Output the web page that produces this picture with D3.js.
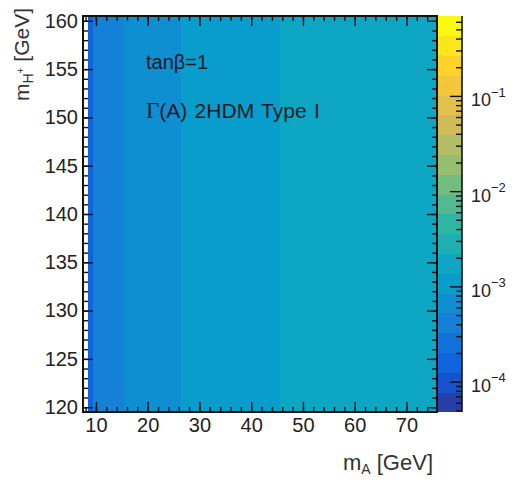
<!DOCTYPE html>
<html><head><meta charset="utf-8">
<script src="https://cdn.jsdelivr.net/npm/d3@7"></script>
<style>
html,body{margin:0;padding:0;background:#fff;}
svg{display:block;font-family:"Liberation Sans",Arial,Helvetica,sans-serif;}
</style></head>
<body>
<svg id="c" width="513" height="482"></svg>
<script>
// ---- data ----
const mA = [9,10,11,12,13,14,15,16,17,18,19,20,21,22,23,24,25,26,27,28,29,30,31,32,33,34,35,36,37,38,39,40,41,42,43,44,45,46,47,48,49,50,51,52,53,54,55,56,57,58,59,60,61,62,63,64,65,66,67,68,69,70,71,72,73,74,75,76];
const widthA = [1.95e-4,
 3.50e-4,3.85e-4,4.19e-4,4.53e-4,4.87e-4,5.20e-4,
 5.54e-4,5.84e-4,6.14e-4,6.44e-4,6.74e-4,7.03e-4,7.32e-4,7.61e-4,7.90e-4,8.18e-4,8.44e-4,
 8.72e-4,9.00e-4,9.28e-4,9.56e-4,9.83e-4,1.011e-3,1.038e-3,1.065e-3,1.092e-3,1.119e-3,1.146e-3,1.172e-3,1.199e-3,1.225e-3,1.252e-3,1.278e-3,1.304e-3,1.330e-3,1.356e-3,
 1.382e-3,1.408e-3,1.434e-3,1.459e-3,1.485e-3,1.510e-3,1.536e-3,1.561e-3,1.586e-3,1.611e-3,1.636e-3,1.661e-3,1.686e-3,1.711e-3,1.736e-3,1.760e-3,1.785e-3,1.809e-3,1.834e-3,1.858e-3,1.882e-3,1.906e-3,1.931e-3,1.955e-3,1.979e-3,2.002e-3,2.026e-3,2.050e-3,2.074e-3,2.097e-3,2.121e-3];
const mHp = [120,121,122,123,124,125,126,127,128,129,130,131,132,133,134,135,136,137,138,139,140,141,142,143,144,145,146,147,148,149,150,151,152,153,154,155,156,157,158,159,160];
const xTicks = [10,20,30,40,50,60,70];
const yTicks = [120,125,130,135,140,145,150,155,160];
const zTickExp = [-4,-3,-2,-1];
const zRange = [4.8e-5, 0.69];
const nLevels = 20;
const annotations = ["tanβ=1", "(A) 2HDM Type I"];

// ---- ROOT kBird palette ----
const stops = [0.0000,0.1250,0.2500,0.3750,0.5000,0.6250,0.7500,0.8750,1.0000];
const red   = [0.2082,0.0592,0.0780,0.0232,0.1802,0.5301,0.8186,0.9956,0.9764];
const green = [0.1664,0.3599,0.5041,0.6419,0.7178,0.7492,0.7328,0.7862,0.9832];
const blue  = [0.5293,0.8684,0.8385,0.7914,0.6425,0.4662,0.3499,0.1968,0.0539];
const NCOL = 255;
const palette = [];
for (let g = 1; g < stops.length; g++) {
  const n = Math.floor(NCOL*stops[g]) - Math.floor(NCOL*stops[g-1]);
  for (let c = 0; c < n; c++) {
    const t = c/n;
    palette.push(d3.rgb(
      255*(red[g-1]+(red[g]-red[g-1])*t),
      255*(green[g-1]+(green[g]-green[g-1])*t),
      255*(blue[g-1]+(blue[g]-blue[g-1])*t)).toString());
  }
}
while (palette.length < NCOL) palette.push(d3.rgb(255*red[8],255*green[8],255*blue[8]).toString());
function levelColor(lv){ return palette[Math.min(NCOL-1, Math.floor((lv+0.99)*NCOL/nLevels))]; }

// ---- layout ----
const L = 83, R = 437, T = 16, B = 412, CB = 462;
const svg = d3.select("#c");
const x = d3.scaleLinear().domain([7.5, 75.9]).range([L, R]);
const y = d3.scaleLinear().domain([119.5, 160.5]).range([B, T]);
const zLog = d3.scaleLog().domain(zRange).range([0, nLevels]);
const zY = d3.scaleLog().domain(zRange).range([B, T]);
function zLevel(v){ return Math.max(0, Math.min(nLevels-1, Math.floor(zLog(v)))); }

// cells
const cells = [];
mA.forEach((m,i) => mHp.forEach(h => cells.push({m, h, v: widthA[i]})));
const x0 = x.domain()[0], x1 = x.domain()[1];
svg.append("g").selectAll("rect").data(cells).join("rect")
  .attr("x", d => x(Math.max(x0, d.m-0.5)))
  .attr("width", d => x(Math.min(x1, d.m+0.5)) - x(Math.max(x0, d.m-0.5)) + 0.3)
  .attr("y", d => y(d.h+0.5))
  .attr("height", d => y(d.h-0.5) - y(d.h+0.5) + 0.3)
  .attr("fill", d => levelColor(zLevel(d.v)))
  .attr("shape-rendering", "crispEdges");

// colour bar
const levels = d3.range(nLevels);
const lvVal = lv => Math.pow(10, Math.log10(zRange[0]) + lv*(Math.log10(zRange[1])-Math.log10(zRange[0]))/nLevels);
svg.append("g").selectAll("rect").data(levels).join("rect")
  .attr("x", R).attr("width", CB-R)
  .attr("y", lv => zY(lvVal(lv+1)))
  .attr("height", lv => zY(lvVal(lv)) - zY(lvVal(lv+1)) + 0.3)
  .attr("fill", lv => levelColor(lv))
  .attr("shape-rendering", "crispEdges");

// axes
function styleAxis(g){ g.select(".domain").remove(); g.selectAll("line").attr("stroke","#111").attr("stroke-width",1.4); }
const xMinor = d3.range(8, 76, 2);
const yMinor = d3.range(120, 161, 1);
svg.append("g").attr("transform",`translate(0,${B})`)
  .call(d3.axisBottom(x).tickValues(xMinor).tickSize(-5).tickFormat("")).call(styleAxis);
svg.append("g").attr("transform",`translate(0,${B})`)
  .call(d3.axisBottom(x).tickValues(xTicks).tickSize(-10).tickPadding(6).tickFormat(d3.format("d"))).call(styleAxis)
  .selectAll("text").attr("font-size",20).attr("fill","#222").attr("dy","0.72em");
svg.append("g").attr("transform",`translate(0,${T})`)
  .call(d3.axisTop(x).tickValues(xMinor).tickSize(-5).tickFormat("")).call(styleAxis);
svg.append("g").attr("transform",`translate(0,${T})`)
  .call(d3.axisTop(x).tickValues(xTicks).tickSize(-10).tickFormat("")).call(styleAxis);
svg.append("g").attr("transform",`translate(${L},0)`)
  .call(d3.axisLeft(y).tickValues(yMinor).tickSize(-5).tickFormat("")).call(styleAxis);
svg.append("g").attr("transform",`translate(${L},0)`)
  .call(d3.axisLeft(y).tickValues(yTicks).tickSize(-10).tickPadding(5).tickFormat(d3.format("d"))).call(styleAxis)
  .selectAll("text").attr("font-size",20).attr("fill","#222");
svg.append("g").attr("transform",`translate(${R},0)`)
  .call(d3.axisRight(y).tickValues(yMinor).tickSize(-5).tickFormat("")).call(styleAxis);
svg.append("g").attr("transform",`translate(${R},0)`)
  .call(d3.axisRight(y).tickValues(yTicks).tickSize(-10).tickFormat("")).call(styleAxis);

// z axis ticks
const zMinor = [];
for (let e = -5; e <= 0; e++) for (let k = 2; k <= 9; k++) { const v = k*Math.pow(10,e); if (v > zRange[0] && v < zRange[1]) zMinor.push(v); }
svg.append("g").attr("transform",`translate(${CB},0)`)
  .call(d3.axisRight(zY).tickValues(zMinor).tickSize(-6).tickFormat("")).call(styleAxis);
const zax = svg.append("g").attr("transform",`translate(${CB},0)`)
  .call(d3.axisRight(zY).tickValues(zTickExp.map(e => Math.pow(10,e))).tickSize(-12).tickPadding(9).tickFormat("")).call(styleAxis);
zax.selectAll(".tick").each(function(d,i){
  const t = d3.select(this).select("text").attr("font-size",18).attr("fill","#222").attr("dy","0.55em").text("10");
  t.append("tspan").attr("font-size",13).attr("dy","-0.75em").text("−" + Math.abs(zTickExp[i]));
});

// frame
svg.append("rect").attr("x",L).attr("y",T).attr("width",R-L).attr("height",B-T)
  .attr("fill","none").attr("stroke","#111").attr("stroke-width",2);
svg.append("line").attr("x1",CB).attr("x2",CB).attr("y1",T).attr("y2",B).attr("stroke","#111").attr("stroke-width",1.6);

// annotations
svg.append("text").attr("x",146).attr("y",69).attr("font-size",20).attr("fill","#1a1a2a").text(annotations[0]);
const a2 = svg.append("text").attr("x",146).attr("y",118).attr("font-size",21).attr("fill","#1a1a2a").attr("word-spacing","1.5px");
a2.append("tspan").attr("font-family","'Liberation Serif','DejaVu Serif',serif").attr("font-size",23).text("Γ");
a2.append("tspan").text(annotations[1]);

// axis titles
const xt = svg.append("text").attr("x",433).attr("y",470).attr("text-anchor","end").attr("font-size",22).attr("fill","#333");
xt.append("tspan").text("m");
xt.append("tspan").attr("font-size",14).attr("dy","0.3em").text("A");
xt.append("tspan").attr("dy","-0.2em").text(" [GeV]");

const yt = svg.append("text").attr("transform","translate(29,8) rotate(-90)").attr("text-anchor","end").attr("font-size",21).attr("fill","#333");
yt.append("tspan").text("m");
yt.append("tspan").attr("font-size",14).attr("dy","0.3em").text("H");
yt.append("tspan").attr("font-size",10).attr("dy","-0.9em").text("+");
yt.append("tspan").attr("dy","0.25em").text(" [GeV]");
</script>
</body></html>
